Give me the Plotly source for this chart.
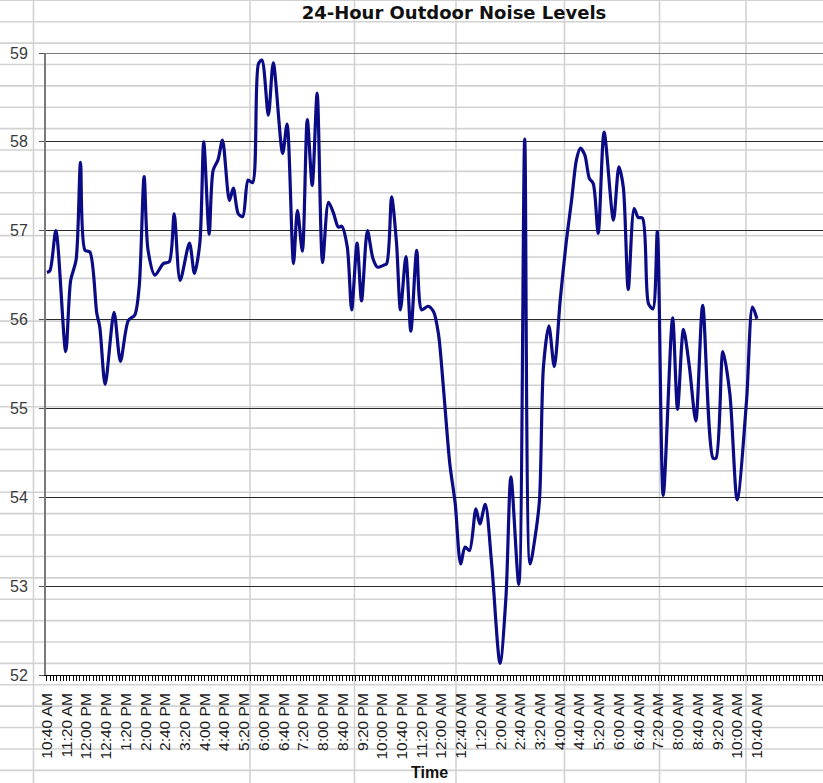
import plotly.graph_objects as go

# Sound level readings: minutes elapsed since 10:40 AM, and level in dB
minutes = [0, 6, 18, 38, 48, 59, 68, 77, 87, 101, 107, 118, 136, 149, 165, 178,
           187, 197, 205, 219, 236, 248, 258, 270, 289, 299, 310, 318, 329, 337,
           347, 356, 370, 378, 388, 397, 408, 417, 429, 436, 449, 459, 478, 487,
           500, 508, 518, 528, 538, 548, 559, 571, 581, 591, 598, 609, 618, 629,
           638, 650, 661, 670, 682, 689, 699, 709, 717, 728, 738, 750, 760, 773,
           784, 794, 804, 817, 828, 839, 848, 857, 870, 878, 889, 902, 919, 931,
           941, 957, 969, 980, 990, 999, 1007, 1018, 1029, 1041, 1053, 1064, 1074,
           1082, 1091, 1100, 1108, 1118, 1130, 1149, 1160, 1169, 1179, 1191, 1199,
           1208, 1220, 1229, 1238, 1250, 1269, 1279, 1291, 1303, 1316, 1330, 1351,
           1357, 1371, 1385, 1400, 1419, 1431, 1440]
noise_db = [56.53, 56.55, 57.00, 55.64, 56.44, 56.67, 57.77, 56.78, 56.76, 56.07,
            55.92, 55.27, 56.08, 55.53, 55.99, 56.05, 56.37, 57.61, 56.78, 56.50,
            56.63, 56.65, 57.19, 56.44, 56.86, 56.52, 56.86, 58.00, 56.96, 57.68,
            57.80, 58.02, 57.34, 57.48, 57.19, 57.16, 57.57, 57.54, 58.88, 58.92,
            58.30, 58.89, 57.87, 58.20, 56.63, 57.23, 56.77, 58.25, 57.51, 58.55,
            56.64, 57.32, 57.20, 57.04, 57.05, 56.82, 56.11, 56.86, 56.21, 57.00,
            56.69, 56.59, 56.61, 56.63, 57.38, 56.86, 56.11, 56.71, 55.87, 56.78,
            56.11, 56.15, 56.09, 55.84, 55.24, 54.38, 53.93, 53.25, 53.44, 53.40,
            53.87, 53.70, 53.92, 53.25, 52.13, 52.88, 54.23, 53.02, 58.03, 53.25,
            53.55, 53.97, 55.47, 55.93, 55.47, 56.22, 56.86, 57.34, 57.80, 57.93,
            57.85, 57.59, 57.53, 56.97, 58.11, 57.12, 57.72, 57.49, 56.34, 57.25,
            57.15, 57.14, 56.18, 56.12, 56.99, 54.02, 56.02, 54.99, 55.89, 55.47,
            54.86, 56.16, 54.44, 54.44, 55.64, 55.17, 53.97, 55.09, 56.14, 56.01]

tick_labels = ["10:40 AM", "11:20 AM", "12:00 PM", "12:40 PM", "1:20 PM", "2:00 PM",
               "2:40 PM", "3:20 PM", "4:00 PM", "4:40 PM", "5:20 PM", "6:00 PM",
               "6:40 PM", "7:20 PM", "8:00 PM", "8:40 PM", "9:20 PM", "10:00 PM",
               "10:40 PM", "11:20 PM", "12:00 AM", "12:40 AM", "1:20 AM", "2:00 AM",
               "2:40 AM", "3:20 AM", "4:00 AM", "4:40 AM", "5:20 AM", "6:00 AM",
               "6:40 AM", "7:20 AM", "8:00 AM", "8:40 AM", "9:20 AM", "10:00 AM",
               "10:40 AM"]
label_step = 40          # minutes between labelled ticks
reading_step = 40 / 6    # minutes between readings (one small tick each)

W, H = 823, 783
L, R, T, B = 46, 0, 53, 108
PW, PH = W - L - R, H - T - B


def px_x(x):
    return (x - L) / PW


def px_y(y):
    return (H - B - y) / PH


# worksheet cell borders behind the chart
cell_color = "rgb(210,210,210)"
shapes = []
for k in range(37):
    yy = 0.3 + 21.39 * k
    shapes.append(dict(type="line", xref="paper", yref="paper", layer="below",
                       x0=px_x(0), x1=px_x(W), y0=px_y(yy), y1=px_y(yy),
                       line=dict(color=cell_color, width=1.6)))
for xx in [33.5, 250, 354.5, 456, 564.5, 659.5, 746]:
    shapes.append(dict(type="line", xref="paper", yref="paper", layer="below",
                       x0=px_x(xx), x1=px_x(xx), y0=px_y(0), y1=px_y(H),
                       line=dict(color=cell_color, width=1.6)))
# plot-area top border
shapes.append(dict(type="line", xref="paper", yref="y", layer="above",
                   x0=0, x1=1, y0=59, y1=59,
                   line=dict(color="#7a7a7a", width=2)))

fig = go.Figure(go.Scatter(
    x=minutes, y=noise_db, mode="lines",
    line=dict(color="#0b0b86", width=3.2, shape="spline", smoothing=0.8),
    hoverinfo="x+y",
))

fig.update_layout(
    width=W, height=H,
    margin=dict(l=L, r=R, t=T, b=B),
    paper_bgcolor="white",
    plot_bgcolor="rgba(0,0,0,0)",
    showlegend=False,
    shapes=shapes,
    title=dict(text="<b>24-Hour Outdoor Noise Levels</b>",
               x=454 / W, xref="container", xanchor="center",
               y=1 - 13 / H, yref="container", yanchor="middle",
               font=dict(family="DejaVu Sans", size=18, color="#111")),
    annotations=[dict(text="<b>Time</b>", xref="paper", yref="paper",
                      x=px_x(429), y=px_y(772), showarrow=False,
                      xanchor="center", yanchor="middle",
                      font=dict(family="Arial", size=16, color="#111"))],
)

fig.update_xaxes(
    range=[-2, (W - 47) / 0.493],
    tickmode="array",
    tickvals=[i * label_step for i in range(len(tick_labels))],
    ticktext=tick_labels,
    tickangle=-90,
    ticks="outside", ticklen=5, tickcolor="black", tickwidth=1,
    minor=dict(tickmode="linear", tick0=0, dtick=reading_step,
               ticks="outside", ticklen=5, tickcolor="black", tickwidth=1),
    tickfont=dict(family="Arial", size=15.5, color="#1a1a1a"),
    ticklabelstandoff=6,
    showgrid=False, zeroline=False,
    showline=True, linecolor="black", linewidth=1,
)

fig.update_yaxes(
    range=[52, 59], dtick=1,
    ticks="outside", ticklen=5, tickcolor="#555", tickwidth=1,
    tickfont=dict(family="Arial", size=16, color="#3a3a3a"),
    ticklabelstandoff=8,
    showgrid=True, gridcolor="#2a2a2a", gridwidth=1,
    zeroline=False,
    showline=True, linecolor="#7a7a7a", linewidth=2,
)

fig.write_html("out.html")
